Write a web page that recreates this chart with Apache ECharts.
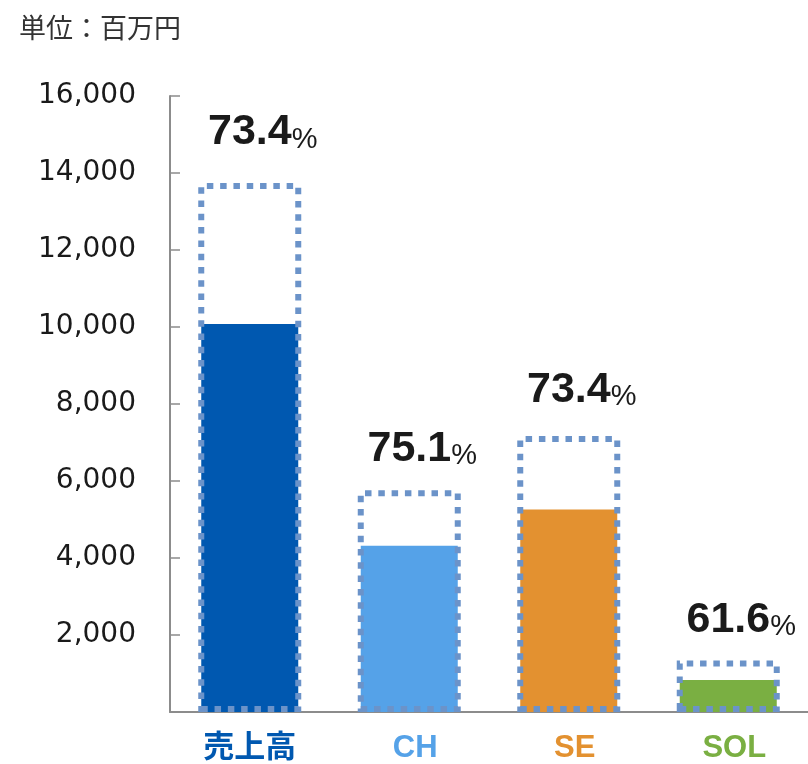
<!DOCTYPE html>
<html><head><meta charset="utf-8">
<script src="https://cdn.jsdelivr.net/npm/echarts@6/dist/echarts.min.js"></script>
<style>html,body{margin:0;padding:0;background:#fff}#c{width:808px;height:764px}</style>
</head><body><div id="c"></div>
<script>
const categories = ['売上高', 'CH', 'SE', 'SOL'];
const actualValues = [10080, 4320, 5260, 830];
const targetValues = [13740, 5760, 7170, 1340];
const rateLabels = ['73.4', '75.1', '73.4', '61.6'];
const barColors = ['#0058b0', '#55a2e8', '#e39130', '#7aaf42'];
const labelDistances = [29, 20, 24, 19];
const yTicks = { min: 0, max: 16000, interval: 2000 };

const chart = echarts.init(document.getElementById('c'), null, { renderer: 'canvas' });
const catLabelRich = {};
categories.forEach((c, i) => {
  catLabelRich['c' + i] = {
    color: barColors[i], fontSize: 31, fontWeight: 'bold',
    fontFamily: 'Liberation Sans, Noto Sans CJK JP',
    padding: i === 0 ? 0 : [0, 0, 0, 12]
  };
});
chart.setOption({
  animation: false,
  title: {
    text: '単位：百万円', left: 14, top: 9,
    textStyle: { fontSize: 27, fontWeight: 'normal', color: '#333', fontFamily: 'Noto Sans CJK JP' }
  },
  grid: { left: 170, top: 96, width: 640, height: 616 },
  xAxis: [{
    type: 'category', data: categories,
    axisLine: { lineStyle: { color: '#8c8c8c', width: 2 } },
    axisTick: { inside: true, length: 10, lineStyle: { color: '#8c8c8c', width: 1.5 } },
    axisLabel: {
      margin: 21,
      formatter: (v) => '{c' + categories.indexOf(v) + '|' + v + '}',
      rich: catLabelRich
    }
  }, {
    type: 'category', data: categories, show: false
  }],
  yAxis: {
    type: 'value', min: yTicks.min, max: yTicks.max, interval: yTicks.interval,
    axisLine: { show: true, lineStyle: { color: '#8c8c8c', width: 2 } },
    axisTick: { show: true, inside: true, length: 10, lineStyle: { color: '#8c8c8c', width: 1.5 } },
    splitLine: { show: false },
    axisLabel: {
      margin: 34, fontSize: 28, color: '#1a1a1a', fontFamily: 'DejaVu Sans', showMinLabel: false,
      formatter: (v) => v.toLocaleString('en-US')
    }
  },
  series: [{
    type: 'bar', xAxisIndex: 0, barWidth: 97, z: 2,
    data: actualValues.map((v, i) => ({ value: v, itemStyle: { color: barColors[i] } }))
  }, {
    type: 'bar', xAxisIndex: 1, barWidth: 103, z: 3,
    itemStyle: {
      color: 'rgba(0,0,0,0)', borderColor: '#6b93c9', borderWidth: 6,
      borderType: [6.5, 6.8], borderCap: 'butt'
    },
    data: targetValues.map((v, i) => ({
      value: v,
      label: { distance: labelDistances[i] }
    })),
    label: {
      show: true, position: 'top', offset: [13, 0],
      formatter: (p) => '{a|' + rateLabels[p.dataIndex] + '}{b|%}',
      rich: {
        a: { fontSize: 43, fontWeight: 'bold', color: '#1a1a1a', fontFamily: 'Liberation Sans', lineHeight: 42, verticalAlign: 'bottom' },
        b: { fontSize: 29, fontWeight: 'normal', color: '#1a1a1a', fontFamily: 'Liberation Sans', lineHeight: 32, verticalAlign: 'bottom' }
      }
    }
  }]
});
</script></body></html>
